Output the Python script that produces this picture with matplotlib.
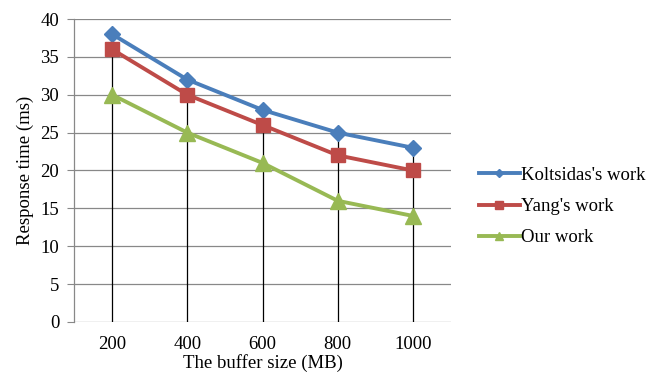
import matplotlib
matplotlib.use("Agg")
import matplotlib.pyplot as plt
import numpy as np

categories = ["200", "400", "600", "800", "1000"]
koltsidas = [38, 32, 28, 25, 23]
yang = [36, 30, 26, 22, 20]
ours = [30, 25, 21, 16, 14]
yticks = [0, 5, 10, 15, 20, 25, 30, 35, 40]

plt.rcParams['font.family'] = ['Liberation Serif', 'DejaVu Serif']

fig = plt.figure(figsize=(6.58, 3.81), dpi=100)
ax = fig.add_axes([0.1132, 0.1549, 0.6847 - 0.1132, 0.9501 - 0.1549])

x = np.arange(len(categories))
top = np.max([koltsidas, yang, ours], axis=0)
ax.vlines(x, 0, top, colors='black', linewidth=0.9, zorder=2)

ax.plot(x, koltsidas, color='#4A7EBB', lw=2.8, marker='D', ms=8, label="Koltsidas's work", zorder=4)
ax.plot(x, yang, color='#BE4B48', lw=2.8, marker='s', ms=10, label="Yang's work", zorder=4)
ax.plot(x, ours, color='#98B954', lw=2.8, marker='^', ms=11, label="Our work", zorder=4)

ax.set_xlim(-0.5, len(categories) - 0.5)
ax.set_ylim(0, 40)
ax.set_yticks(yticks)
ax.set_xticks(x)
ax.set_xticklabels(categories)
ax.yaxis.grid(True, color='#888888', linewidth=0.9, zorder=0)
ax.set_axisbelow(True)
for s in ['top', 'right', 'bottom']:
    ax.spines[s].set_visible(False)
ax.spines['left'].set_color('#888888')
ax.spines['left'].set_linewidth(0.9)
ax.tick_params(axis='y', length=5, color='#888888', labelsize=13.5, pad=6)
ax.tick_params(axis='x', length=0, labelsize=13.5, pad=10)
ax.set_xlabel("The buffer size (MB)", fontsize=13.5, labelpad=1)
ax.set_ylabel("Response time (ms)", fontsize=13.5, labelpad=5)

fig.legend(loc='center left', bbox_to_anchor=(0.702, 0.458), frameon=False,
           fontsize=13.5, handlelength=2.2, handletextpad=0.05, labelspacing=0.75,
           markerscale=0.55)

fig.savefig("out.png", dpi=100)
